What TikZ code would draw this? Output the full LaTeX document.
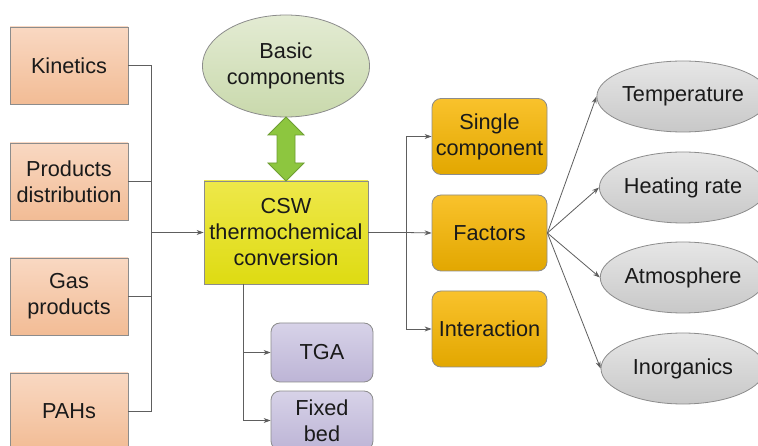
\documentclass[tikz,border=0pt]{standalone}
\usepackage{fontspec}
\setmainfont{Liberation Sans}
\usetikzlibrary{arrows.meta,shapes.geometric}
\definecolor{linegray}{HTML}{5E5E5E}
\definecolor{edgegray}{HTML}{8C8C8C}
\definecolor{txt}{HTML}{1A1A1A}
\definecolor{peachtop}{HTML}{F9D8C2}
\definecolor{peachbot}{HTML}{F2BC95}
\definecolor{yeltop}{HTML}{EEE84A}
\definecolor{yelbot}{HTML}{DEDB12}
\definecolor{orgtop}{HTML}{F9C22C}
\definecolor{orgbot}{HTML}{E2A700}
\definecolor{purtop}{HTML}{D7D2E8}
\definecolor{purbot}{HTML}{BDB5D6}
\definecolor{grytop}{HTML}{E6E6E6}
\definecolor{grybot}{HTML}{C8C8C8}
\definecolor{grntop}{HTML}{E3EBD3}
\definecolor{grnbot}{HTML}{C9D9AC}
\definecolor{arrowfill}{HTML}{8DC63F}
\definecolor{arrowedge}{HTML}{6E9E33}
\tikzset{
  lbl/.style={font=\fontsize{21.7}{26}\selectfont, text=txt, align=center, inner sep=0pt},
  peachbox/.style={lbl, draw=edgegray, line width=0.8pt, top color=peachtop, bottom color=peachbot,
    minimum width=118, minimum height=77},
  cswbox/.style={lbl, draw=edgegray, line width=0.8pt, top color=yeltop, bottom color=yelbot,
    minimum width=164, minimum height=103},
  orangebox/.style={lbl, draw=edgegray, line width=0.8pt, rounded corners=9, top color=orgtop,
    bottom color=orgbot, minimum width=115, minimum height=76},
  purplebox/.style={lbl, draw=edgegray, line width=0.8pt, rounded corners=9, top color=purtop,
    bottom color=purbot, minimum width=102, minimum height=59},
  grayell/.style={lbl, ellipse, draw=edgegray, line width=0.8pt, top color=grytop,
    bottom color=grybot, minimum width=164, minimum height=71},
  greenell/.style={lbl, ellipse, draw=edgegray, line width=0.8pt, top color=grntop,
    bottom color=grnbot, minimum width=166, minimum height=102},
  conn/.style={draw=linegray, line width=0.8pt},
  arr/.style={conn, -{Stealth[length=7pt,width=5pt]}},
}
\begin{document}
\begin{tikzpicture}[x=1pt, y=-1pt]
  \useasboundingbox (0,0) rectangle (758,446);
  \clip (0,0) rectangle (758,446);
  \fill[white] (0,0) rectangle (758,446);

  % left column
  \node[peachbox] (kin) at (69,65.5) {Kinetics};
  \node[peachbox] (prod) at (69,181.5) {Products\\distribution};
  \node[peachbox] (gas) at (69,296.5) {Gas\\products};
  \node[peachbox] (pah) at (69,411.5) {PAHs};

  % centre
  \node[greenell] (basic) at (286,66) {Basic\\components};
  \node[cswbox] (csw) at (286,232.5) {CSW\\thermochemical\\conversion};

  % reactors
  \node[purplebox] (tga) at (322,352.5) {TGA};
  \node[purplebox] (fix) at (322,420.5) {Fixed\\bed};

  % orange column
  \node[orangebox] (single) at (489.5,136.5) {Single\\component};
  \node[orangebox] (fac) at (489.5,233) {Factors};
  \node[orangebox] (inter) at (489.5,329) {Interaction};

  % factor ellipses
  \node[grayell] (temp) at (683,96.5) {Temperature};
  \node[grayell] (heat) at (683,187.5) {Heating rate};
  \node[grayell] (atm) at (683,277.5) {Atmosphere};
  \node[grayell] (inorg) at (683,368.5) {Inorganics};

  % green double arrow between basic components and CSW
  \draw[draw=arrowedge, line width=0.8pt, fill=arrowfill]
    (286,117) -- (304,135) -- (295,135) -- (295,163) -- (304,163) -- (286,181)
    -- (268,163) -- (277,163) -- (277,135) -- (268,135) -- cycle;

  % left collector
  \coordinate (jl) at (151,232.5);
  \draw[conn] (kin.east) -| (jl);
  \draw[conn] (prod.east) -| (jl);
  \draw[conn] (gas.east) -| (jl);
  \draw[conn] (pah.east) -| (jl);
  \draw[arr] (jl) -- (csw.west);

  % downward branches
  \coordinate (jd) at (243,284);
  \draw[arr] (jd) |- (tga.west);
  \draw[arr] (jd) |- (fix.west);

  % right branches
  \coordinate (jr) at (406,232.5);
  \draw[conn] (csw.east) -- (jr);
  \draw[arr] (jr) |- (single.west);
  \draw[arr] (jr) -- (fac.west);
  \draw[arr] (jr) |- (inter.west);

  % factors fan-out
  \draw[arr] (fac.east) -- (temp.west);
  \draw[arr] (fac.east) -- (heat.west);
  \draw[arr] (fac.east) -- (atm.west);
  \draw[arr] (fac.east) -- (inorg.west);
\end{tikzpicture}
\end{document}
